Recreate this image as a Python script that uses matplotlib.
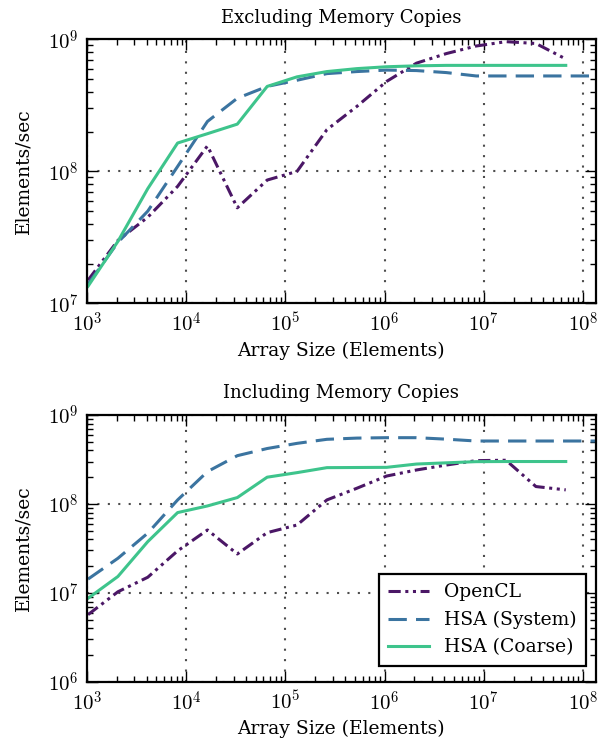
import matplotlib
matplotlib.use('Agg')
import matplotlib.pyplot as plt
from matplotlib.ticker import FuncFormatter, LogLocator
import numpy as np

plt.rcParams['font.family'] = ['DejaVu Serif']
plt.rcParams['mathtext.fontset'] = 'cm'
plt.rcParams['xtick.direction'] = 'in'
plt.rcParams['ytick.direction'] = 'in'
plt.rcParams['xtick.top'] = True
plt.rcParams['ytick.right'] = True

# array sizes, 2^10 .. 2^26 (HSA System has one more point at 2^27)
sizes = [2 ** k for k in range(10, 27)]
sizes_sys = [2 ** k for k in range(10, 28)]

# excluding memory copies
excl_opencl = [1.5e7, 3.0e7, 4.5e7, 7.7e7, 1.56e8, 5.3e7, 8.6e7, 1.0e8, 2.07e8,
               3.1e8, 4.8e8, 6.6e8, 7.8e8, 8.9e8, 9.6e8, 9.3e8, 7.1e8]
excl_system = [1.4e7, 2.9e7, 5.0e7, 1.09e8, 2.39e8, 3.58e8, 4.4e8, 4.9e8, 5.5e8,
               5.7e8, 5.85e8, 5.8e8, 5.6e8, 5.28e8, 5.28e8, 5.28e8, 5.28e8, 5.28e8]
excl_coarse = [1.35e7, 2.95e7, 7.4e7, 1.64e8, 1.93e8, 2.28e8, 4.4e8, 5.2e8, 5.7e8,
               6.0e8, 6.2e8, 6.3e8, 6.35e8, 6.35e8, 6.35e8, 6.35e8, 6.35e8]

# including memory copies
incl_opencl = [5.7e6, 1.03e7, 1.5e7, 2.97e7, 5.1e7, 2.74e7, 4.76e7, 5.8e7, 1.11e8,
               1.5e8, 2.06e8, 2.41e8, 2.74e8, 3.07e8, 3.1e8, 1.57e8, 1.44e8]
incl_system = [1.43e7, 2.45e7, 4.7e7, 1.11e8, 2.31e8, 3.49e8, 4.2e8, 4.8e8, 5.33e8,
               5.5e8, 5.56e8, 5.56e8, 5.35e8, 5.1e8, 5.1e8, 5.1e8, 5.1e8, 5.1e8]
incl_coarse = [8.7e6, 1.53e7, 3.77e7, 8.0e7, 9.5e7, 1.18e8, 2.0e8, 2.25e8, 2.56e8,
               2.57e8, 2.58e8, 2.81e8, 2.9e8, 2.99e8, 3.0e8, 3.0e8, 3.0e8]

panels = [
    ('Excluding Memory Copies', excl_opencl, excl_system, excl_coarse, (1e7, 1e9)),
    ('Including Memory Copies', incl_opencl, incl_system, incl_coarse, (1e6, 1e9)),
]

c_opencl = '#4b1766'
c_system = '#3b74a0'
c_coarse = '#3ec48c'

fig = plt.figure(figsize=(5.98, 7.42), dpi=100)
rects = [[0.1455, 0.591, 0.8505, 0.356], [0.1455, 0.081, 0.8505, 0.3597]]

pow10 = FuncFormatter(lambda v, p: r'$10^{%d}$' % round(np.log10(v)))

for rect, (title, ocl, sysv, coarse, ylim) in zip(rects, panels):
    ax = fig.add_axes(rect)
    ax.plot(sizes, ocl, color=c_opencl, lw=2.2, ls=(0, (4, 1.5, 1, 1.5, 1, 1.5)),
            label='OpenCL')
    ax.plot(sizes_sys, sysv, color=c_system, lw=2.2, ls=(0, (6, 3)),
            label='HSA (System)')
    ax.plot(sizes, coarse, color=c_coarse, lw=2.2, label='HSA (Coarse)')
    ax.set_xscale('log')
    ax.set_yscale('log')
    ax.set_xlim(1e3, 2 ** 27)
    ax.set_ylim(*ylim)
    ax.xaxis.set_major_locator(LogLocator(base=10))
    ax.yaxis.set_major_locator(LogLocator(base=10))
    ax.xaxis.set_major_formatter(pow10)
    ax.yaxis.set_major_formatter(pow10)
    ax.tick_params(which='major', length=8, width=1, labelsize=15, pad=6)
    ax.tick_params(which='minor', length=4, width=1)
    ax.grid(True, which='major', ls=(0, (1, 4)), color='0.3', lw=1.5)
    for s in ax.spines.values():
        s.set_linewidth(1.6)
    ax.set_title(title, fontsize=13, pad=12)
    ax.set_xlabel('Array Size (Elements)', fontsize=13.5)
    ax.set_ylabel('Elements/sec', fontsize=13.5, labelpad=11)

leg = ax.legend(loc='lower right', fontsize=13.5, fancybox=False, framealpha=1,
                edgecolor='black', handlelength=2.2, borderpad=0.5,
                labelspacing=0.5, bbox_to_anchor=(1.0, 0.025))
leg.get_frame().set_linewidth(1.6)

fig.savefig('out.png', dpi=100)
